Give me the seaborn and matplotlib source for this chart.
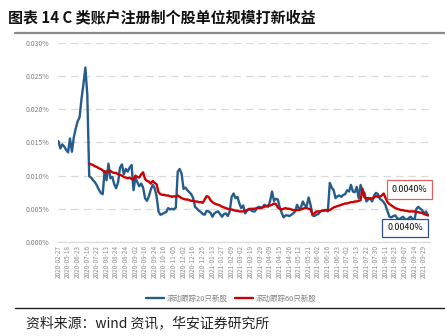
import numpy as np
import pandas as pd
import matplotlib
matplotlib.use("Agg")
import matplotlib.pyplot as plt
import seaborn as sns
from matplotlib.ticker import FuncFormatter
from matplotlib.lines import Line2D

# ---------------- data (values in %) ----------------
tick_labels = [
    "2020-02-27", "2020-05-18", "2020-06-23", "2020-07-16", "2020-07-22", "2020-08-13",
    "2020-08-24", "2020-08-24", "2020-09-02", "2020-09-16", "2020-09-24", "2020-10-16",
    "2020-11-05", "2020-12-02", "2020-12-16", "2020-12-25", "2021-01-13", "2021-01-27",
    "2021-02-09", "2021-03-02", "2021-03-19", "2021-03-29", "2021-04-09", "2021-04-15",
    "2021-04-26", "2021-05-12", "2021-05-21", "2021-06-02", "2021-06-16", "2021-06-23",
    "2021-07-02", "2021-07-13", "2021-07-22", "2021-07-30", "2021-08-11", "2021-08-23",
    "2021-09-07", "2021-09-14", "2021-09-29",
]

roll20 = [
    0.0152, 0.0141, 0.0147, 0.0144, 0.0139, 0.0135, 0.0156, 0.0136, 0.0158, 0.0171,
    0.0182, 0.0188, 0.0216, 0.0238, 0.0263, 0.0222, 0.0099, 0.0097, 0.0093, 0.0090,
    0.0085, 0.0079, 0.0074, 0.0072, 0.0107, 0.0093, 0.0118, 0.0096, 0.0098, 0.0087,
    0.0081, 0.0090, 0.0112, 0.0117, 0.0102, 0.0110, 0.0106, 0.0112, 0.0116, 0.0078,
    0.0097, 0.0090, 0.0084, 0.0088, 0.0082, 0.0066, 0.0062, 0.0069, 0.0079, 0.0086,
    0.0081, 0.0069, 0.0046, 0.0041, 0.0042, 0.0044, 0.0045, 0.0051, 0.0049, 0.0050,
    0.0049, 0.0052, 0.0106, 0.0110, 0.0103, 0.0080, 0.0082, 0.0078, 0.0075, 0.0072,
    0.0066, 0.0053, 0.0050, 0.0047, 0.0045, 0.0042, 0.0041, 0.0047, 0.0046, 0.0044,
    0.0038, 0.0043, 0.0045, 0.0046, 0.0042, 0.0038, 0.0042, 0.0043, 0.0039, 0.0046,
    0.0068, 0.0073, 0.0066, 0.0068, 0.0058, 0.0051, 0.0055, 0.0043, 0.0047, 0.0050,
    0.0048, 0.0046, 0.0046, 0.0050, 0.0053, 0.0052, 0.0052, 0.0056, 0.0054, 0.0053,
    0.0062, 0.0076, 0.0062, 0.0065, 0.0064, 0.0052, 0.0044, 0.0037, 0.0040, 0.0040,
    0.0039, 0.0041, 0.0043, 0.0046, 0.0056, 0.0050, 0.0052, 0.0061, 0.0055, 0.0054,
    0.0067, 0.0056, 0.0040, 0.0039, 0.0041, 0.0042, 0.0046, 0.0047, 0.0048, 0.0048,
    0.0046, 0.0089, 0.0082, 0.0078, 0.0066, 0.0069, 0.0070, 0.0068, 0.0071, 0.0072,
    0.0078, 0.0076, 0.0086, 0.0076, 0.0075, 0.0083, 0.0066, 0.0086, 0.0077, 0.0074,
    0.0061, 0.0064, 0.0066, 0.0061, 0.0070, 0.0074, 0.0072, 0.0065, 0.0063, 0.0060,
    0.0055, 0.0046, 0.0038, 0.0037, 0.0039, 0.0040, 0.0036, 0.0034, 0.0036, 0.0038,
    0.0035, 0.0033, 0.0036, 0.0038, 0.0035, 0.0032, 0.0050, 0.0053, 0.0050, 0.0048,
    0.0042, 0.0046, 0.0040,
]

roll60 = [np.nan] * 16 + [
    0.0118, 0.0117, 0.0116, 0.0114, 0.0113, 0.0111, 0.0110, 0.0108, 0.0105, 0.0106,
    0.0107, 0.0107, 0.0105, 0.0104, 0.0104, 0.0102, 0.0101, 0.0100, 0.0098, 0.0097,
    0.0096, 0.0097, 0.0095, 0.0094, 0.0100, 0.0098, 0.0097, 0.0102, 0.0105, 0.0095,
    0.0092, 0.0091, 0.0088, 0.0092, 0.0089, 0.0087, 0.0075, 0.0072, 0.0071, 0.0071,
    0.0070, 0.0070, 0.0069, 0.0068, 0.0069, 0.0068, 0.0070, 0.0068, 0.0066, 0.0065,
    0.0064, 0.0064, 0.0063, 0.0062, 0.0062, 0.0061, 0.0061, 0.0060, 0.0060, 0.0059,
    0.0064, 0.0069, 0.0068, 0.0063, 0.0060, 0.0058, 0.0057, 0.0056, 0.0055, 0.0053,
    0.0052, 0.0051, 0.0050, 0.0049, 0.0049, 0.0048, 0.0047, 0.0047, 0.0046, 0.0046,
    0.0046, 0.0047, 0.0048, 0.0049, 0.0050, 0.0050, 0.0050, 0.0051, 0.0051, 0.0051,
    0.0052, 0.0053, 0.0054, 0.0055, 0.0055, 0.0056, 0.0058, 0.0057, 0.0052, 0.0050,
    0.0049, 0.0050, 0.0051, 0.0050, 0.0050, 0.0049, 0.0048, 0.0048, 0.0048, 0.0048,
    0.0049, 0.0050, 0.0051, 0.0051, 0.0050, 0.0049, 0.0042, 0.0043, 0.0046, 0.0046,
    0.0046, 0.0047, 0.0047, 0.0048, 0.0048, 0.0048, 0.0050, 0.0052, 0.0053, 0.0054,
    0.0055, 0.0056, 0.0057, 0.0058, 0.0058, 0.0059, 0.0060, 0.0060, 0.0061, 0.0061,
    0.0062, 0.0063, 0.0080, 0.0067, 0.0066, 0.0066, 0.0065, 0.0066, 0.0067, 0.0069,
    0.0068, 0.0068, 0.0070, 0.0073, 0.0066, 0.0060, 0.0057, 0.0055, 0.0053, 0.0051,
    0.0050, 0.0049, 0.0048, 0.0048, 0.0047, 0.0047, 0.0046, 0.0046, 0.0046, 0.0046,
    0.0045, 0.0045, 0.0044, 0.0044, 0.0042, 0.0041, 0.0040,
]

series_names = ["滚动跟踪20只新股", "滚动跟踪60只新股"]
title_text = "图表 14 C 类账户注册制个股单位规模打新收益"
source_text = "资料来源：wind 资讯，华安证券研究所"
last20_label = "0.0040%"
last60_label = "0.0040%"

# ---------------- build table ----------------
n = len(roll20)
idx = np.arange(n)
df = pd.DataFrame({
    "i": np.concatenate([idx, idx]),
    "v": np.concatenate([roll20, roll60]),
    "s": [series_names[0]] * n + [series_names[1]] * n,
})

sns.set_theme(style="white")
plt.rcParams["font.family"] = ["Noto Sans CJK SC", "DejaVu Sans"]

BLUE = "#255c8c"
RED = "#cc0000"

fig = plt.figure(figsize=(4.45, 3.36), dpi=100)
ax = fig.add_axes([0.130, 0.280, 0.836, 0.592])

sns.lineplot(data=df, x="i", y="v", hue="s", palette=[BLUE, RED],
             linewidth=1.7, ax=ax, legend=False, estimator=None)

ax.set_xlim(-0.3, 193.0)
ax.set_ylim(0, 0.030)
ax.set_yticks(np.arange(0, 0.0301, 0.005))
ax.yaxis.set_major_formatter(FuncFormatter(lambda v, p: f"{v:.3f}%"))
tick_pos = np.arange(0, 5 * len(tick_labels), 5)
ax.set_xticks(tick_pos)
ax.set_xticklabels(tick_labels, rotation=90)
ax.tick_params(axis="x", labelsize=4.6, colors="#8c8c8c", length=0, pad=2)
ax.tick_params(axis="y", labelsize=5.0, colors="#7f7f7f", length=0, pad=6)
ax.set_xlabel("")
ax.set_ylabel("")
ax.grid(axis="y", color="#d9d9d9", linestyle=(0, (6, 4)), linewidth=0.9)
for sp in ["left", "right", "top"]:
    ax.spines[sp].set_visible(False)
ax.spines["bottom"].set_color("#d9d9d9")
ax.spines["bottom"].set_linewidth(0.8)

# annotation boxes
ax.annotate(last60_label, xy=(0.946, 0.264), xycoords="axes fraction",
            ha="center", va="center", fontsize=6.4, color="#111111",
            bbox=dict(boxstyle="square,pad=0.55", fc="white", ec="#e06060", lw=0.9))
ax.annotate(last20_label, xy=(0.933, 0.070), xycoords="axes fraction",
            ha="center", va="center", fontsize=6.4, color="#111111",
            bbox=dict(boxstyle="square,pad=0.55", fc="white", ec="#2f4f8a", lw=0.9))

# legend
handles = [Line2D([], [], color=BLUE, lw=1.7), Line2D([], [], color=RED, lw=1.7)]
fig.legend(handles, series_names, loc="center", bbox_to_anchor=(0.52, 0.110),
           ncol=2, frameon=False, fontsize=5.4, labelcolor="#7f7f7f",
           handlelength=2.4, handletextpad=0.3, columnspacing=1.0)

# title and rules
fig.text(0.018, 0.948, title_text, fontsize=10.8, fontweight="bold", color="#111111",
         ha="left", va="center")
fig.add_artist(Line2D([0.034, 1.0], [0.902, 0.902], color="#8a8a8a", lw=1.6,
                      transform=fig.transFigure))
fig.add_artist(Line2D([0.034, 1.0], [0.082, 0.082], color="#222222", lw=1.0,
                      transform=fig.transFigure))
fig.text(0.058, 0.038, source_text, fontsize=10.0, color="#222222",
         ha="left", va="center")

fig.savefig("out.png", dpi=100)
